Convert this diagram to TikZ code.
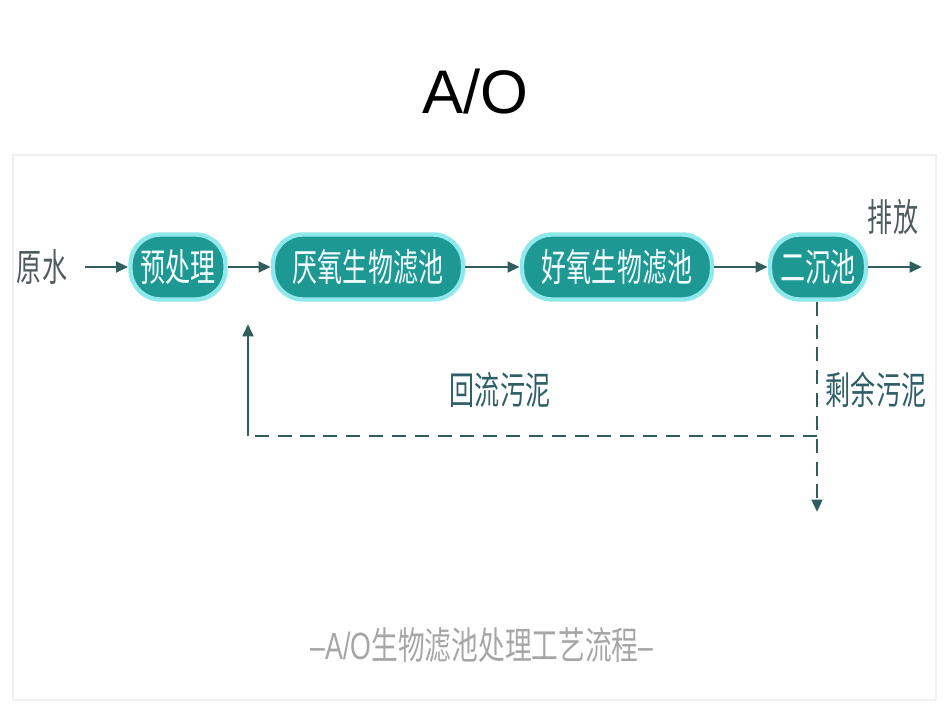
\documentclass[tikz,border=0pt]{standalone}
\usepackage{fontspec}
\usetikzlibrary{arrows.meta}
\setmainfont{Liberation Sans}
\newfontfamily\cjk{Noto Sans CJK SC}
\definecolor{pool}{HTML}{1E9893}
\definecolor{glow}{HTML}{8FE8EC}
\definecolor{pipe}{HTML}{2F5E5C}
\definecolor{word}{HTML}{4F5B5E}
\definecolor{mud}{HTML}{2E5F68}
\newcommand{\tall}[1]{\scalebox{0.95}[1.45]{\cjk #1}}
\begin{document}
\begin{tikzpicture}[x=0.02cm, y=-0.02cm,
  tank/.style={draw=glow, line width=2.5pt, fill=pool, rounded corners=0.6cm,
    minimum height=1.3cm, inner sep=0pt, text=white!95!cyan, font=\fontsize{15}{15}\selectfont},
  flow/.style={-{Triangle[length=7pt,width=6pt]}, line width=1.7pt, color=pipe},
  back/.style={line width=1.5pt, color=pipe, dash pattern=on 8pt off 5pt},
  tag/.style={font=\fontsize{15}{15}\selectfont}]
\useasboundingbox (0,0) rectangle (950,713);
\draw[black!6, line width=1pt] (13,155) rectangle (936,700);
\node[font=\fontsize{35}{36}\selectfont] (title) at (475,92) {A/O};
% main line
\node[tag, text=word] (raw) at (42,267) {\tall{原水}};
\node[tank, minimum width=1.9cm] (pre) at (178,267) {\tall{预处理}};
\node[tank, minimum width=3.8cm] (ana) at (368,267) {\tall{厌氧生物滤池}};
\node[tank, minimum width=3.8cm] (aer) at (617,267) {\tall{好氧生物滤池}};
\node[tank, minimum width=1.92cm] (sed) at (818,267) {\tall{二沉池}};
\node[tag, text=word] (out) at (893,217) {\tall{排放}};
\coordinate (end) at (922,267);
\draw[flow] (raw.east) ++(12,0) -- (pre.west);
\draw[flow] (pre) -- (ana);
\draw[flow] (ana) -- (aer);
\draw[flow] (aer) -- (sed);
\draw[flow] (sed) -- (end);
% sludge
\coordinate (drop) at (817,512);
\coordinate (turn) at (817,436);
\coordinate (corner) at (248,436);
\coordinate (up) at (248,324);
\draw[back, -{Triangle[length=7pt,width=6pt]}] (sed.south -| drop) -- (drop);
\draw[back] (turn) -- (corner);
\draw[flow] (corner) -- (up);
\node[tag, text=mud] (ret) at (500,390) {\tall{回流污泥}};
\node[tag, text=mud] (rest) at (876,390) {\tall{剩余污泥}};
\node[text=black!35, font=\fontsize{16}{16}\selectfont] (cap) at (482,645)
  {\scalebox{0.95}[1.35]{--A/O{\cjk 生物滤池处理工艺流程}--}};
\end{tikzpicture}
\end{document}
